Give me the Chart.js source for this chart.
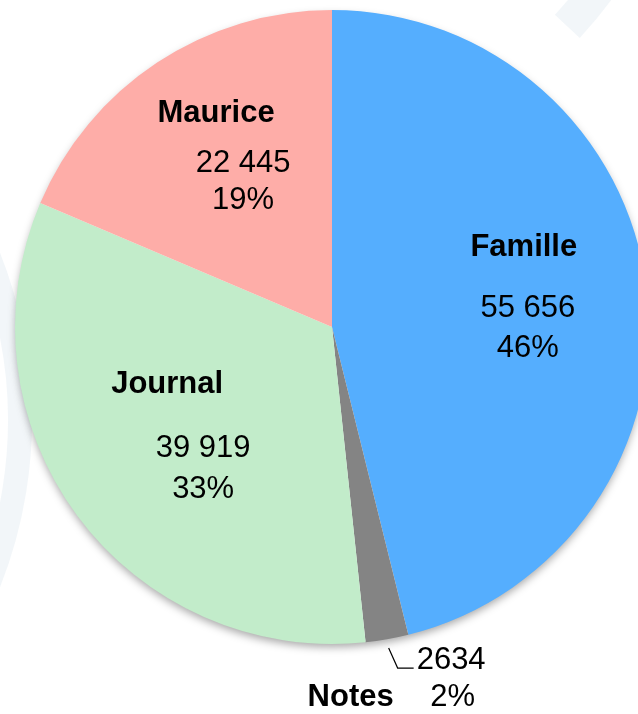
<!DOCTYPE html>
<html>
<head>
<meta charset="utf-8">
<script src="https://cdn.jsdelivr.net/npm/chart.js@4/dist/chart.umd.min.js"></script>
<style>
  html, body { margin: 0; padding: 0; background: #fff; overflow: hidden; }
  #wrap { width: 638px; height: 714px; overflow: hidden; position: relative; }
  canvas { position: absolute; left: 0; top: 0; }
</style>
</head>
<body>
<div id="wrap"><canvas id="pie" width="680" height="714"></canvas></div>
<script>
// Données
const categories = ['Famille', 'Notes', 'Journal', 'Maurice'];
const valeurs = [55656, 2634, 39919, 22445];
const valeursTexte = ['55 656', '2634', '39 919', '22 445'];
const pourcentages = ['46%', '2%', '33%', '19%'];
const couleurs = ['#55aefe', '#848484', '#c2ecca', '#feada8'];

const police = "'Liberation Sans', Arial, sans-serif";

// Fond : bandes très claires
const fondPlugin = {
    id: 'fond',
    beforeDraw(chart) {
        const ctx = chart.ctx;
        ctx.save();
        ctx.strokeStyle = 'rgba(236, 242, 246, 0.7)';
        ctx.lineWidth = 24;
        ctx.beginPath();
        ctx.arc(-420, 420, 440, -0.9, 0.5);
        ctx.stroke();
        ctx.lineWidth = 34;
        ctx.beginPath();
        ctx.arc(260, -260, 420, 0.15, 0.75);
        ctx.stroke();
        ctx.restore();
    }
};

// Ombre sous le camembert
const ombrePlugin = {
    id: 'ombre',
    beforeDatasetsDraw(chart) {
        const arc = chart.getDatasetMeta(0).data[0];
        const ctx = chart.ctx;
        ctx.save();
        ctx.shadowColor = 'rgba(0,0,0,0.35)';
        ctx.shadowBlur = 8;
        ctx.shadowOffsetY = 4;
        ctx.fillStyle = '#fff';
        ctx.beginPath();
        ctx.arc(arc.x, arc.y, arc.outerRadius - 1, 0, Math.PI * 2);
        ctx.fill();
        ctx.restore();
    }
};

// Étiquettes
const etiquettesPlugin = {
    id: 'etiquettes',
    afterDatasetsDraw(chart) {
        const ctx = chart.ctx;
        const meta = chart.getDatasetMeta(0);
        // réglages fins par part : décalage du bloc, du nom
        const decal = [[7, 0], [0, 0], [24, 3], [16, -10]];
        const decalNom = [[-4, -61], [0, 0], [-36, -64], [-27, -50]];
        const decalPct = [40, 0, 41, 37];
        ctx.save();
        ctx.fillStyle = '#000';
        ctx.textAlign = 'center';
        ctx.textBaseline = 'middle';
        meta.data.forEach(function(arc, i) {
            const mid = (arc.startAngle + arc.endAngle) / 2;
            const R = arc.outerRadius;
            if (i === 1) {
                // étiquette externe avec ligne de rappel
                const x0 = arc.x + Math.cos(mid) * (R + 9);
                const y0 = arc.y + Math.sin(mid) * (R + 9);
                ctx.strokeStyle = '#000';
                ctx.lineWidth = 1.2;
                ctx.beginPath();
                ctx.moveTo(x0, y0);
                ctx.lineTo(x0 + 9, y0 + 20);
                ctx.lineTo(x0 + 25, y0 + 20);
                ctx.stroke();
                ctx.font = '31px ' + police;
                ctx.textAlign = 'left';
                ctx.fillText(valeursTexte[i], x0 + 28, y0 + 12);
                ctx.textAlign = 'center';
                ctx.fillText(pourcentages[i], x0 + 64, y0 + 49);
                ctx.font = 'bold 31px ' + police;
                ctx.fillText(categories[i], x0 - 38, y0 + 49);
                return;
            }
            const cx = arc.x + Math.cos(mid) * R * 0.6 + decal[i][0];
            const cy = arc.y + Math.sin(mid) * R * 0.6 + decal[i][1];
            ctx.font = 'bold 31px ' + police;
            ctx.fillText(categories[i], cx + decalNom[i][0], cy + 5 + decalNom[i][1]);
            ctx.font = '31px ' + police;
            ctx.fillText(valeursTexte[i], cx, cy + 5);
            ctx.fillText(pourcentages[i], cx, cy + 5 + decalPct[i]);
        });
        ctx.restore();
    }
};

new Chart(document.getElementById('pie'), {
    type: 'pie',
    data: {
        labels: categories,
        datasets: [{
            data: valeurs,
            backgroundColor: couleurs,
            borderWidth: 0
        }]
    },
    options: {
        responsive: false,
        animation: false,
        layout: { padding: { left: 15, right: 31, top: 10, bottom: 70 } },
        plugins: {
            legend: { display: false },
            tooltip: { enabled: false }
        }
    },
    plugins: [fondPlugin, ombrePlugin, etiquettesPlugin]
});
</script>
</body>
</html>
